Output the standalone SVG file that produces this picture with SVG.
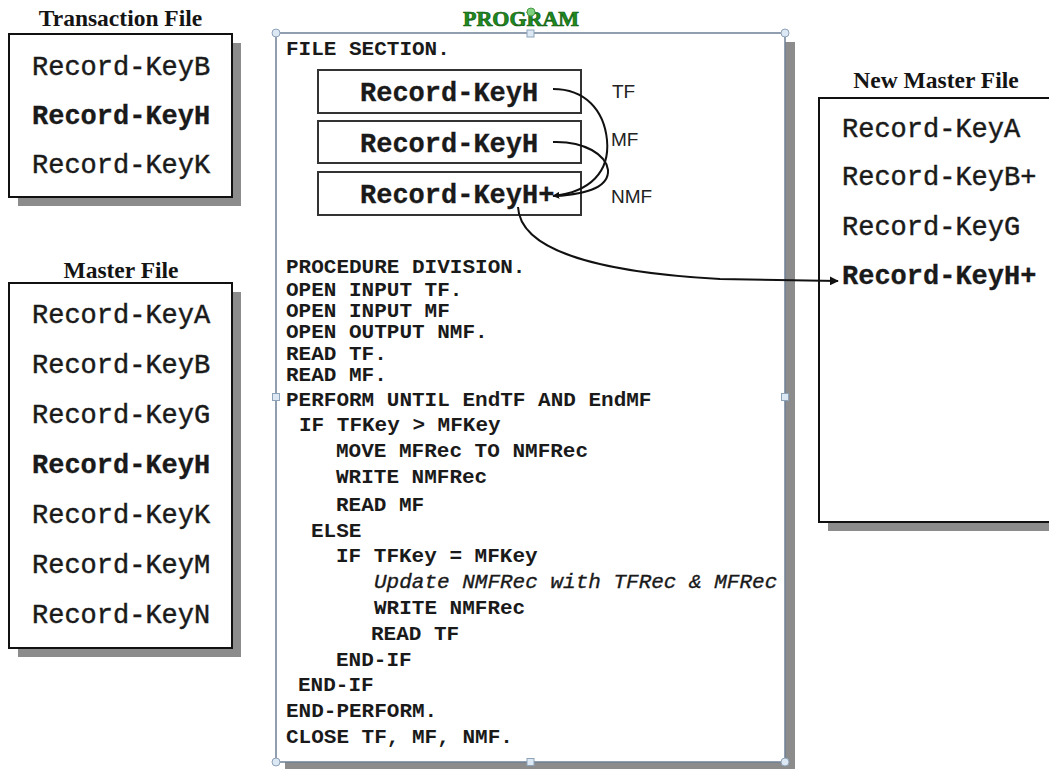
<svg xmlns="http://www.w3.org/2000/svg" width="1049" height="769" viewBox="0 0 1049 769">
<defs>
<style>
.title{font-family:"Liberation Serif","Times New Roman",serif;font-weight:bold;font-size:23.5px;fill:#141414;text-anchor:middle}
.rec{font-family:"Courier New","Liberation Mono",monospace;font-size:27px;fill:#1a1a1a;stroke:#1a1a1a;stroke-width:0.45}
.b{font-weight:bold;stroke-width:0.3}
.code{font-family:"Courier New","Liberation Mono",monospace;font-size:21px;font-weight:bold;fill:#1a1a1a}
.it{font-weight:normal;font-style:italic;stroke:#1a1a1a;stroke-width:0.35}
.lbl{font-family:"Liberation Sans",Arial,sans-serif;font-size:19px;fill:#222}
.box{fill:#fff;stroke:#111;stroke-width:2}
.shadow{fill:#8c8c8c}
.sub{fill:#fff;stroke:#333;stroke-width:2}
.conn{fill:none;stroke:#111;stroke-width:2}
.hc{fill:#dce9f5;stroke:#8fa3b8;stroke-width:1}
</style>
<marker id="arr" viewBox="0 0 10 10" refX="9" refY="5" markerWidth="7" markerHeight="7" orient="auto" markerUnits="userSpaceOnUse">
<path d="M0,0 L10,5 L0,10 Z" fill="#111"/>
</marker>
<marker id="arr2" viewBox="0 0 10 10" refX="9" refY="5" markerWidth="9" markerHeight="9" orient="auto" markerUnits="userSpaceOnUse">
<path d="M0,0 L10,5 L0,10 Z" fill="#111"/>
</marker>
</defs>
<rect width="1049" height="769" fill="#fff"/>

<g id="transaction-file">
<text class="title" x="120.5" y="26">Transaction File</text>
<rect class="shadow" x="18" y="43" width="223" height="163"/>
<rect class="box" x="9" y="34" width="223" height="163"/>
<text class="rec" x="32" y="75">Record-KeyB</text>
<text class="rec b" x="32" y="124">Record-KeyH</text>
<text class="rec" x="32" y="173">Record-KeyK</text>
</g>

<g id="master-file">
<text class="title" x="121" y="278">Master File</text>
<rect class="shadow" x="18" y="292" width="223" height="365"/>
<rect class="box" x="9" y="283" width="223" height="365"/>
<text class="rec" x="32" y="323">Record-KeyA</text>
<text class="rec" x="32" y="373">Record-KeyB</text>
<text class="rec" x="32" y="423">Record-KeyG</text>
<text class="rec b" x="32" y="473">Record-KeyH</text>
<text class="rec" x="32" y="523">Record-KeyK</text>
<text class="rec" x="32" y="573">Record-KeyM</text>
<text class="rec" x="32" y="623">Record-KeyN</text>
</g>

<g id="new-master-file">
<text class="title" x="936" y="88">New Master File</text>
<rect class="shadow" x="828" y="107" width="260" height="424"/>
<rect class="box" x="819" y="98" width="260" height="424"/>
<text class="rec" x="842" y="137">Record-KeyA</text>
<text class="rec" x="842" y="185">Record-KeyB+</text>
<text class="rec" x="842" y="235">Record-KeyG</text>
<text class="rec b" x="842" y="284">Record-KeyH+</text>
</g>

<g id="program">
<rect class="shadow" x="285" y="42" width="510" height="729"/>
<rect x="276" y="33" width="509" height="729" fill="#fff" stroke="#6d7f96" stroke-width="1.5"/>
<text x="521" y="26" font-family="Liberation Serif,Times New Roman,serif" font-weight="bold" font-size="22" fill="#1f8a1f" stroke="#0f5a0f" stroke-width="0.7" text-anchor="middle">PROGRAM</text>
<circle cx="531" cy="12" r="4" fill="#7fd07f" stroke="#4a9a4a" stroke-width="1"/>
<circle class="hc" cx="276" cy="33" r="4"/>
<circle class="hc" cx="785" cy="33" r="4"/>
<circle class="hc" cx="276" cy="762" r="4"/>
<circle class="hc" cx="785" cy="762" r="4"/>
<rect class="hc" x="527" y="30" width="7" height="7"/>
<rect class="hc" x="272.5" y="393.5" width="7" height="7"/>
<rect class="hc" x="781.5" y="393.5" width="7" height="7"/>
<rect class="hc" x="527" y="758.5" width="7" height="7"/>
<text class="code" x="286" y="55">FILE SECTION.</text>
<text class="code" x="286" y="273">PROCEDURE DIVISION.</text>
<text class="code" x="286" y="296">OPEN INPUT TF.</text>
<text class="code" x="286" y="317">OPEN INPUT MF</text>
<text class="code" x="286" y="338">OPEN OUTPUT NMF.</text>
<text class="code" x="286" y="360">READ TF.</text>
<text class="code" x="286" y="381">READ MF.</text>
<text class="code" x="286" y="406">PERFORM UNTIL EndTF AND EndMF</text>
<text class="code" x="299" y="431">IF TFKey &gt; MFKey</text>
<text class="code" x="336" y="457">MOVE MFRec TO NMFRec</text>
<text class="code" x="336" y="483">WRITE NMFRec</text>
<text class="code" x="336" y="511">READ MF</text>
<text class="code" x="311" y="537">ELSE</text>
<text class="code" x="336" y="562">IF TFKey = MFKey</text>
<text class="code it" x="374" y="588">Update NMFRec with TFRec &amp; MFRec</text>
<text class="code" x="374" y="614">WRITE NMFRec</text>
<text class="code" x="371" y="640">READ TF</text>
<text class="code" x="336" y="666">END-IF</text>
<text class="code" x="298" y="691">END-IF</text>
<text class="code" x="286" y="717">END-PERFORM.</text>
<text class="code" x="286" y="743">CLOSE TF, MF, NMF.</text>
</g>

<g id="tf-record">
<rect class="sub" x="318" y="70" width="263" height="43"/>
<text class="rec b" x="360" y="101">Record-KeyH</text>
<text class="lbl" x="612" y="98">TF</text>
</g>
<g id="mf-record">
<rect class="sub" x="318" y="121" width="263" height="42"/>
<text class="rec b" x="360" y="152">Record-KeyH</text>
<text class="lbl" x="611" y="146">MF</text>
</g>
<g id="nmf-record">
<rect class="sub" x="318" y="172" width="263" height="43"/>
<text class="rec b" x="360" y="203">Record-KeyH+</text>
<text class="lbl" x="611" y="203">NMF</text>
</g>

<g id="connectors">
<path class="conn" d="M553,89 C585,89 604,110 607,140 C610,172 590,192 553,196" marker-end="url(#arr)"/>
<path class="conn" d="M553,142 C585,141 606,155 608,170 C609,186 590,194 555,196"/>
<path class="conn" d="M518,207 C520,248 590,272 720,279 L838,281" marker-end="url(#arr2)"/>
</g>
</svg>
